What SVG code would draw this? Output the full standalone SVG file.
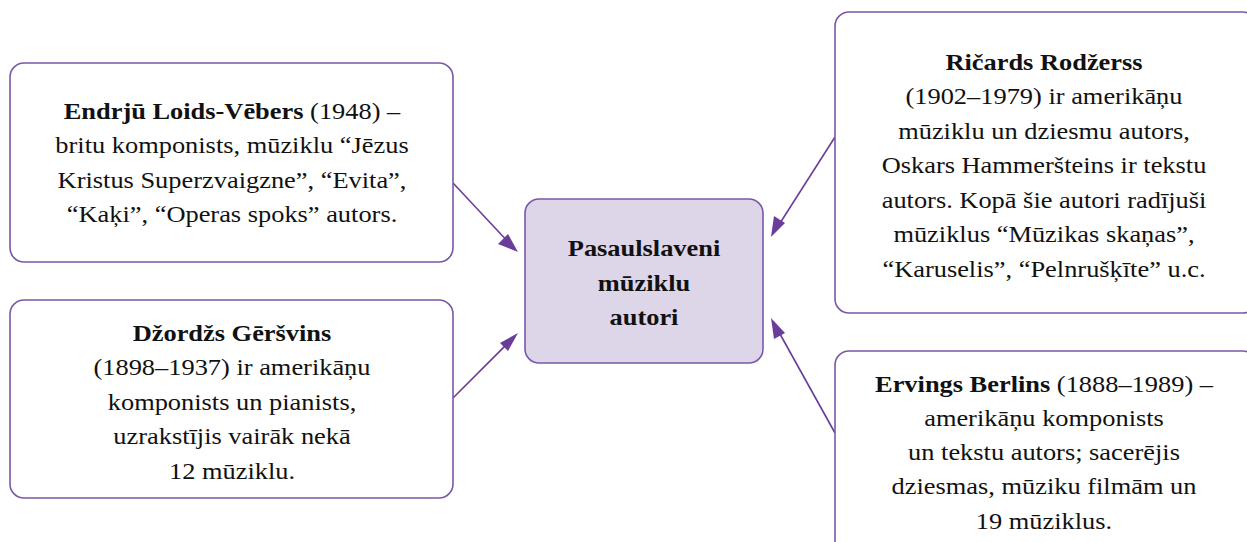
<svg xmlns="http://www.w3.org/2000/svg" width="1247" height="542" viewBox="0 0 1247 542">
<defs>
<style>
.box{fill:#ffffff;stroke:#7b57a8;stroke-width:1.6}
.center{fill:#ddd6e9;stroke:#7b57a8;stroke-width:1.6}
.t{font-size:24px;fill:#111;text-anchor:middle}
.b{font-weight:bold}
.conn{stroke:#6a3d9a;stroke-width:1.6;fill:none}
.head{fill:#6a3d9a}
</style>
</defs>
<rect width="1247" height="542" fill="#ffffff"/>
<g id="connectors">
<line class="conn" x1="453" y1="183" x2="512" y2="246"/>
<path class="head" d="M518,252 L498,244 L508,234 z"/>
<line class="conn" x1="453" y1="398" x2="512" y2="339"/>
<path class="head" d="M518,333 L508,351 L500,343 z"/>
<line class="conn" x1="835" y1="137" x2="775" y2="231"/>
<path class="head" d="M771,237 L774,216 L785,223 z"/>
<line class="conn" x1="835" y1="433" x2="775" y2="325"/>
<path class="head" d="M771,318 L785,333 L774,339 z"/>
</g>
<g font-family="'Liberation Serif', 'Times New Roman', Times, serif">
<g id="node-endrju">
<rect class="box" x="10" y="63" width="443" height="199" rx="14"/>
<g transform="translate(232 0) scale(1.1 1)">
<text class="t" x="0" y="119"><tspan class="b">Endrjū Loids-Vēbers</tspan> (1948) –</text>
<text class="t" x="0" y="153.5">britu komponists, mūziklu “Jēzus</text>
<text class="t" x="0" y="188">Kristus Superzvaigzne”, “Evita”,</text>
<text class="t" x="0" y="222.5">“Kaķi”, “Operas spoks” autors.</text>
</g>
</g>
<g id="node-gersvins">
<rect class="box" x="10" y="300" width="443" height="198" rx="14"/>
<g transform="translate(232 0) scale(1.1 1)">
<text class="t b" x="0" y="341">Džordžs Gēršvins</text>
<text class="t" x="0" y="375.5">(1898–1937) ir amerikāņu</text>
<text class="t" x="0" y="410">komponists un pianists,</text>
<text class="t" x="0" y="444.5">uzrakstījis vairāk nekā</text>
<text class="t" x="0" y="479">12 mūziklu.</text>
</g>
</g>
<g id="node-center">
<rect class="center" x="525" y="199" width="238" height="164" rx="14"/>
<g transform="translate(644 0) scale(1.1 1)">
<text class="t b" x="0" y="256">Pasaulslaveni</text>
<text class="t b" x="0" y="291">mūziklu</text>
<text class="t b" x="0" y="325">autori</text>
</g>
</g>
<g id="node-rodzerss">
<rect class="box" x="835" y="12" width="422" height="301" rx="14"/>
<g transform="translate(1044 0) scale(1.1 1)">
<text class="t b" x="0" y="70">Ričards Rodžerss</text>
<text class="t" x="0" y="104.5">(1902–1979) ir amerikāņu</text>
<text class="t" x="0" y="139">mūziklu un dziesmu autors,</text>
<text class="t" x="0" y="173.5">Oskars Hammeršteins ir tekstu</text>
<text class="t" x="0" y="208">autors. Kopā šie autori radījuši</text>
<text class="t" x="0" y="242.5">mūziklus “Mūzikas skaņas”,</text>
<text class="t" x="0" y="277">“Karuselis”, “Pelnrušķīte” u.c.</text>
</g>
</g>
<g id="node-berlins">
<rect class="box" x="835" y="351" width="422" height="210" rx="14"/>
<g transform="translate(1044 0) scale(1.1 1)">
<text class="t" x="0" y="392"><tspan class="b">Ervings Berlins</tspan> (1888–1989) –</text>
<text class="t" x="0" y="426">amerikāņu komponists</text>
<text class="t" x="0" y="460">un tekstu autors; sacerējis</text>
<text class="t" x="0" y="494.5">dziesmas, mūziku filmām un</text>
<text class="t" x="0" y="529">19 mūziklus.</text>
</g>
</g>
</g>
</svg>
